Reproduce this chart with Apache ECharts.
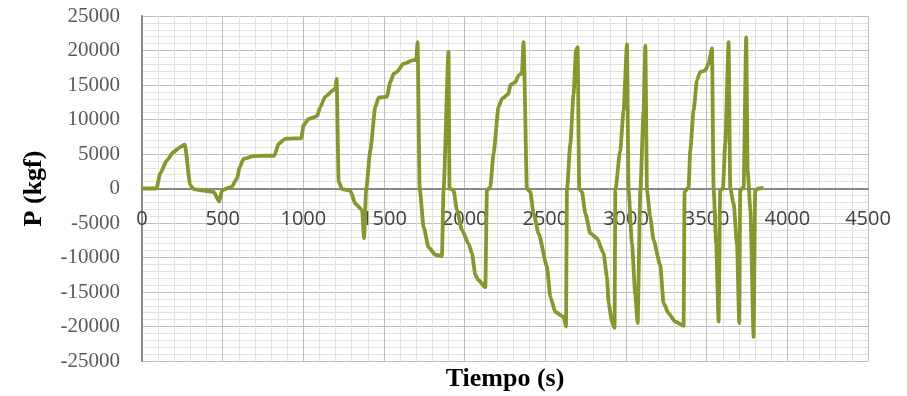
<!DOCTYPE html>
<html>
<head>
<meta charset="utf-8">
<title>P (kgf) vs Tiempo (s)</title>
<script src="https://cdn.jsdelivr.net/npm/echarts@6/dist/echarts.min.js"></script>
<style>
  html, body { margin: 0; padding: 0; background: #fff; }
  #chart { width: 907px; height: 396px; }
</style>
</head>
<body>
<div id="chart"></div>
<script>
// datos (tiempo en s, carga en kgf)
const tiempo = [
  0, 90, 113, 155, 196, 237, 265, 299, 320, 380, 444, 479, 496, 547, 560, 575, 590, 605, 630, 692,
  764, 820, 847, 888, 987, 1002, 1033, 1085, 1105, 1136, 1188, 1200, 1206, 1219, 1240, 1291, 1322, 1364, 1376, 1390,
  1415, 1446, 1467, 1518, 1539, 1559, 1580, 1621, 1683, 1700, 1708, 1721, 1746, 1776, 1818, 1859, 1869, 1900, 1906, 1931,
  1952, 1983, 2024, 2045, 2066, 2086, 2128, 2138, 2159, 2179, 2210, 2231, 2272, 2283, 2314, 2334, 2355, 2365, 2386, 2407,
  2427, 2458, 2510, 2531, 2562, 2613, 2628, 2634, 2655, 2675, 2690, 2700, 2710, 2727, 2748, 2779, 2820, 2861, 2882, 2892,
  2913, 2929, 2934, 2964, 2985, 3006, 3016, 3037, 3057, 3072, 3089, 3109, 3120, 3130, 3150, 3171, 3212, 3233, 3264, 3305,
  3357, 3363, 3388, 3398, 3419, 3440, 3460, 3491, 3512, 3533, 3543, 3559, 3574, 3584, 3601, 3615, 3636, 3646, 3667, 3688,
  3702, 3708, 3729, 3745, 3754, 3771, 3791, 3801, 3822, 3853
]
const carga = [
  0, 0, 2200, 4100, 5300, 6000, 6400, 500, -100, -300, -500, -1900, -250, 200, 300, 1000, 1500, 3100, 4300, 4700,
  4750, 4750, 6500, 7200, 7300, 9200, 10100, 10500, 11800, 13300, 14300, 14600, 15900, 1000, -100, -300, -2200, -3100, -7200, 0,
  5500, 11800, 13200, 13300, 15400, 16600, 16900, 18100, 18600, 18600, 21200, 0, -5600, -8500, -9600, -9800, -250, 19800, 0, -250,
  -3100, -6000, -8000, -9400, -12500, -13300, -14300, -250, 200, 5100, 11800, 13000, 13700, 15000, 15400, 16400, 16700, 21200, 0, -500,
  -3600, -6500, -11300, -15700, -17900, -18600, -20000, -250, 6500, 13700, 20000, 20500, 0, -500, -3600, -6500, -7200, -9400, -12800, -16600,
  -19300, -20200, -250, 5500, 11300, 20900, -250, -8000, -15200, -19500, -250, 11300, 20700, -250, -4100, -7500, -11100, -16600, -18100, -19300,
  -19900, -500, 200, 5500, 11300, 15700, 16900, 17100, 18100, 20300, 0, -8000, -19300, -250, 0, 6500, 21200, 0, -2200, -8000,
  -19500, -250, 200, 21900, 2600, -3100, -21500, -250, 0, 100
]

const serieData = tiempo.map((t, i) => [t, carga[i]])

const chart = echarts.init(document.getElementById('chart'))
const option = {
  animation: false,
  grid: {
    left: 142,
    right: 39,
    top: 16,
    bottom: 35,
    containLabel: false,
    outerBoundsMode: 'none'
  },
  xAxis: {
    type: 'value',
    min: 0,
    max: 4500,
    interval: 500,
    name: 'Tiempo (s)',
    nameLocation: 'middle',
    nameGap: 5,
    nameTextStyle: {
      fontFamily: 'Liberation Serif',
      fontWeight: 'bold',
      fontSize: 26,
      color: '#000'
    },
    axisLine: {
      onZero: true,
      lineStyle: { color: '#8a8a8a', width: 2 }
    },
    axisTick: { show: false },
    axisLabel: {
      // etiquetas junto a la linea del cero
      margin: -152,
      fontFamily: 'Open Sans',
      fontSize: 20,
      color: '#404040',
      showMinLabel: true,
      showMaxLabel: true,
      hideOverlap: false,
      formatter: v => String(v)
    },
    splitLine: {
      show: true,
      lineStyle: { color: '#bdbdbd', width: 1 }
    },
    minorTick: { show: false, splitNumber: 5 },
    minorSplitLine: {
      show: true,
      lineStyle: { color: '#e2e2e2', width: 1 }
    }
  },
  yAxis: {
    type: 'value',
    min: -25000,
    max: 25000,
    interval: 5000,
    name: 'P (kgf)',
    nameLocation: 'middle',
    nameGap: 95,
    nameTextStyle: {
      fontFamily: 'Liberation Serif',
      fontWeight: 'bold',
      fontSize: 26,
      color: '#000'
    },
    axisLine: {
      show: true,
      onZero: false,
      lineStyle: { color: '#8a8a8a', width: 2 }
    },
    axisTick: { show: false },
    axisLabel: {
      margin: 22,
      fontFamily: 'Liberation Serif',
      fontSize: 21,
      color: '#595959',
      showMinLabel: true,
      showMaxLabel: true,
      hideOverlap: false,
      formatter: v => String(v)
    },
    splitLine: {
      show: true,
      lineStyle: { color: '#bdbdbd', width: 1 }
    },
    minorTick: { show: false, splitNumber: 5 },
    minorSplitLine: {
      show: true,
      lineStyle: { color: '#e2e2e2', width: 1 }
    }
  },
  series: [
    {
      name: 'P',
      type: 'line',
      data: serieData,
      showSymbol: false,
      smooth: 0.2,
      smoothMonotone: 'x',
      lineStyle: { color: '#84992b', width: 3.8, join: 'round' }
    }
  ]
}
chart.setOption(option)
</script>
</body>
</html>
